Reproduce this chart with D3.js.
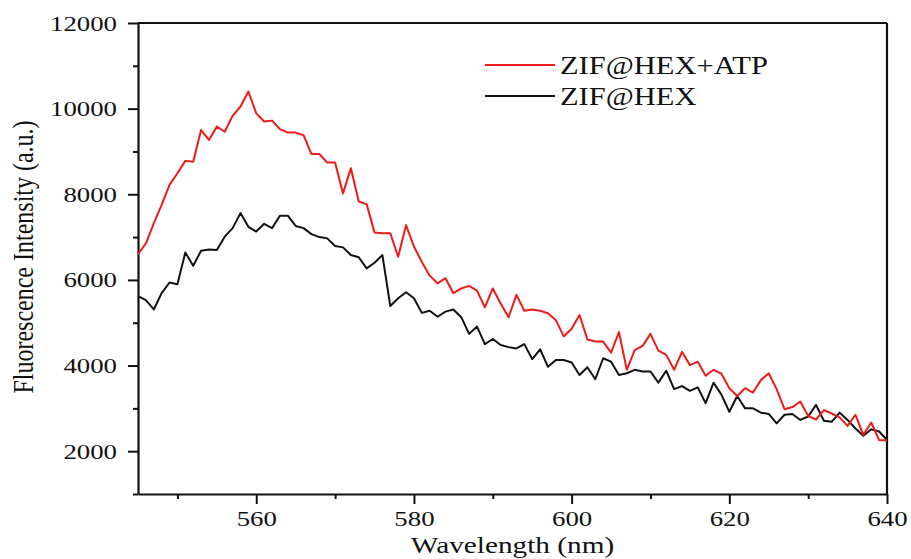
<!DOCTYPE html>
<html>
<head>
<meta charset="utf-8">
<script src="https://cdn.jsdelivr.net/npm/d3@7"></script>
<style>
  html, body { margin: 0; padding: 0; background: #fff; }
  svg { display: block; }
  text { font-family: "Liberation Serif", "Times New Roman", serif; fill: #111; }
</style>
</head>
<body>
<svg id="chart" width="911" height="559"></svg>
<script>
// Emission spectra, 545–640 nm in 1 nm steps
const wavelengthStart = 545;
const wavelengthEnd = 640;

const atpIntensity = [
  6600, 6850, 7320, 7750, 8220, 8490, 8780, 8760, 9500, 9270,   // 545–554
  9580, 9460, 9830, 10050, 10400, 9890, 9700, 9720, 9520, 9440, // 555–564
  9440, 9380, 8940, 8940, 8740, 8740, 8020, 8610, 7830, 7770,   // 565–574
  7110, 7090, 7090, 6540, 7280, 6780, 6420, 6100, 5920, 6040,   // 575–584
  5690, 5800, 5860, 5750, 5360, 5800, 5450, 5130, 5650, 5280,   // 585–594
  5310, 5280, 5220, 5060, 4680, 4860, 5180, 4610, 4560, 4560,   // 595–604
  4300, 4780, 3900, 4360, 4460, 4740, 4350, 4250, 3900, 4320,   // 605–614
  4010, 4090, 3760, 3900, 3810, 3470, 3290, 3470, 3370, 3660,   // 615–624
  3820, 3450, 2980, 3030, 3160, 2820, 2740, 2960, 2880, 2790,   // 625–634
  2590, 2850, 2380, 2670, 2260, 2250                            // 635–640
];

const baseIntensity = [
  5620, 5530, 5310, 5690, 5940, 5900, 6640, 6330, 6680, 6710,   // 545–554
  6700, 7010, 7210, 7560, 7240, 7130, 7310, 7210, 7500, 7500,   // 555–564
  7260, 7210, 7070, 7000, 6970, 6790, 6760, 6580, 6530, 6270,   // 565–574
  6400, 6580, 5390, 5570, 5710, 5570, 5230, 5280, 5140, 5260,   // 575–584
  5310, 5130, 4740, 4910, 4500, 4620, 4480, 4430, 4400, 4500,   // 585–594
  4150, 4380, 3970, 4130, 4130, 4070, 3780, 3960, 3680, 4170,   // 595–604
  4090, 3780, 3820, 3900, 3860, 3860, 3600, 3880, 3450, 3520,   // 605–614
  3410, 3490, 3120, 3600, 3320, 2920, 3290, 3000, 3000, 2900,   // 615–624
  2870, 2650, 2850, 2870, 2730, 2810, 3080, 2710, 2690, 2900,   // 625–634
  2730, 2530, 2360, 2510, 2460, 2260                            // 635–640
];

const seriesNames = ["ZIF@HEX+ATP", "ZIF@HEX"];
const seriesColors = ["#ee1b1b", "#111111"];

const xMajorTicks = [560, 580, 600, 620, 640];
const xMinorTicks = [550, 570, 590, 610, 630];
const yMajorTicks = [2000, 4000, 6000, 8000, 10000, 12000];
const yMinorTicks = [1000, 3000, 5000, 7000, 9000, 11000];

const xTitle = "Wavelength (nm)";
const yTitle = "Fluorescence Intensity (a.u.)";

// Text in this figure is set slightly wide
const STRETCH = 1.22;

const svg = d3.select("#chart");
const plotLeft = 138, plotRight = 887, plotTop = 23, plotBottom = 494;

const x = d3.scaleLinear().domain([wavelengthStart, wavelengthEnd]).range([plotLeft, plotRight]);
const y = d3.scaleLinear().domain([1000, 12000]).range([plotBottom, plotTop]);

const wavelengths = d3.range(wavelengthStart, wavelengthEnd + 1);

// Frame: top and right edges
svg.append("line").attr("x1", plotLeft).attr("x2", plotRight).attr("y1", plotTop).attr("y2", plotTop)
  .attr("stroke", "#111").attr("stroke-width", 2.2);
svg.append("line").attr("x1", plotRight).attr("x2", plotRight).attr("y1", plotTop).attr("y2", plotBottom)
  .attr("stroke", "#111").attr("stroke-width", 2.2);

// Axes
function styleAxis(g) {
  g.select(".domain").attr("stroke", "#111").attr("stroke-width", 2.2);
  g.selectAll(".tick line").attr("stroke", "#111").attr("stroke-width", 2);
}

const xMinor = svg.append("g").attr("transform", `translate(0,${plotBottom})`)
  .call(d3.axisBottom(x).tickValues(xMinorTicks).tickSize(5).tickFormat(""));
styleAxis(xMinor);
xMinor.select(".domain").remove();

const xAxis = svg.append("g").attr("transform", `translate(0,${plotBottom})`)
  .call(d3.axisBottom(x).tickValues(xMajorTicks).tickSize(10).tickPadding(6).tickFormat(d3.format("d")).tickSizeOuter(0));
styleAxis(xAxis);
xAxis.selectAll(".tick text")
  .attr("font-size", 22)
  .attr("transform", `scale(${STRETCH},1)`);

const yMinor = svg.append("g").attr("transform", `translate(${plotLeft},0)`)
  .call(d3.axisLeft(y).tickValues(yMinorTicks).tickSize(5).tickFormat(""));
styleAxis(yMinor);
yMinor.select(".domain").remove();

const yAxis = svg.append("g").attr("transform", `translate(${plotLeft},0)`)
  .call(d3.axisLeft(y).tickValues(yMajorTicks).tickSize(10).tickFormat(d3.format("d")).tickSizeOuter(0));
styleAxis(yAxis);
yAxis.selectAll(".tick text")
  .attr("font-size", 22)
  .attr("x", -21 / STRETCH)
  .attr("transform", `scale(${STRETCH},1)`);

svg.selectAll(".tick text").style("font-family", "'Liberation Serif', serif").attr("fill", "#111");

// Axis titles
svg.append("text")
  .attr("transform", `translate(${(plotLeft + plotRight) / 2},553) scale(${STRETCH},1)`)
  .attr("text-anchor", "middle")
  .attr("font-size", 24)
  .text(xTitle);

svg.append("text")
  .attr("transform", `translate(33,257) scale(${STRETCH},1) rotate(-90)`)
  .attr("text-anchor", "middle")
  .attr("font-size", 24)
  .text(yTitle);

// Spectra (black drawn first so red sits on top)
const line = d3.line()
  .x((d, i) => x(wavelengths[i]))
  .y(d => y(d));

const plot = svg.append("g");
[[baseIntensity, seriesColors[1]], [atpIntensity, seriesColors[0]]].forEach(([vals, color]) => {
  plot.append("path")
    .datum(vals)
    .attr("d", line)
    .attr("fill", "none")
    .attr("stroke", color)
    .attr("stroke-width", 2)
    .attr("stroke-linejoin", "round");
});

// Legend
const legendRows = [65, 96];
seriesNames.forEach((name, i) => {
  svg.append("line")
    .attr("x1", 485).attr("x2", 555)
    .attr("y1", legendRows[i]).attr("y2", legendRows[i])
    .attr("stroke", seriesColors[i]).attr("stroke-width", 2);
  svg.append("text")
    .attr("transform", `translate(560,${legendRows[i] + 9}) scale(${STRETCH},1)`)
    .attr("font-size", 25)
    .text(name);
});
</script>
</body>
</html>
